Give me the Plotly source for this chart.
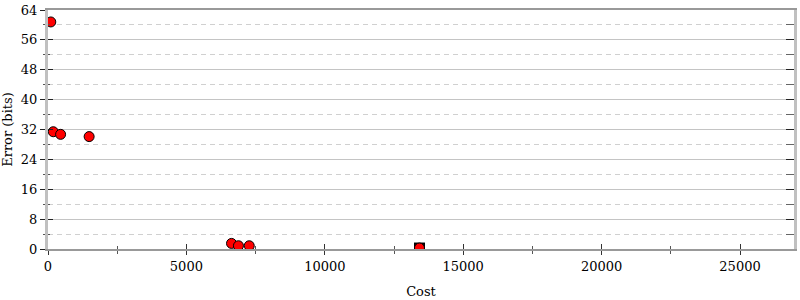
import plotly.graph_objects as go

cost = [100, 190, 455, 1486, 6630, 6880, 7270]
error_bits = [60.8, 31.4, 30.7, 30.1, 1.5, 0.87, 0.87]
best_cost = [13420]
best_error = [0.26]

x_range = [0, 26950]
y_range = [0, 64]
font = "DejaVu Serif"

fig = go.Figure()
# invisible helper traces so the overlay tick axes get drawn
for xa, ya in (("x2", "y2"), ("x2", "y3")):
    fig.add_trace(go.Scatter(x=cost, y=error_bits, xaxis=xa, yaxis=ya, mode="markers",
                             marker=dict(opacity=0), hoverinfo="skip", showlegend=False))
fig.add_trace(go.Scatter(x=best_cost, y=best_error, mode="markers",
                         marker=dict(symbol="square", size=11, color="black",
                                     line=dict(width=0)), showlegend=False))
fig.add_trace(go.Scatter(x=cost + best_cost, y=error_bits + best_error, mode="markers",
                         marker=dict(symbol="circle", size=10, color="#ff0000",
                                     line=dict(width=1, color="black")), showlegend=False))

common_axis = dict(showgrid=False, zeroline=False)
fig.update_layout(
    width=800, height=300,
    margin=dict(l=48, r=3, t=7, b=50),
    paper_bgcolor="white", plot_bgcolor="white",
    font=dict(family=font, size=13, color="#000"),
    xaxis=dict(range=x_range, dtick=5000, tick0=0, showgrid=False, zeroline=False,
               exponentformat="none", tickformat="d",
               ticks="outside", ticklen=4, tickcolor="#333", tickwidth=1,
               minor=dict(dtick=2500, ticks="outside", ticklen=3, tickcolor="#555"),
               showline=True, mirror=True, linecolor="#999", linewidth=2,
               title=dict(text="Cost", standoff=14, font=dict(size=13)),
               tickfont=dict(size=13), ticklabeloverflow="allow"),
    xaxis2=dict(range=x_range, matches="x", overlaying="x", anchor="y", side="bottom",
                dtick=5000, tick0=0, ticks="inside", ticklen=5, tickcolor="#333",
                minor=dict(dtick=2500, ticks="inside", ticklen=3, tickcolor="#555"),
                showticklabels=False, **common_axis),
    yaxis=dict(range=y_range, dtick=8, tick0=0, zeroline=False,
               showgrid=True, gridcolor="#c4c4c4", gridwidth=1,
               ticks="outside", ticklen=5, tickcolor="#222", tickwidth=1,
               minor=dict(dtick=4, showgrid=True, gridcolor="#d0d0d0", griddash="5px,4px",
                          gridwidth=1, ticks="outside", ticklen=2, tickcolor="#555"),
               showline=True, mirror=True, linecolor="#c0c0c0", linewidth=3,
               title=dict(text="Error (bits)", standoff=6, font=dict(size=13)),
               tickfont=dict(size=13), ticklabeloverflow="allow"),
    yaxis2=dict(range=y_range, matches="y", overlaying="y", anchor="x", side="left",
                dtick=8, tick0=0, ticks="inside", ticklen=5, tickcolor="#222",
                minor=dict(dtick=4, ticks="inside", ticklen=2, tickcolor="#555"),
                showticklabels=False, **common_axis),
    yaxis3=dict(range=y_range, matches="y", overlaying="y", anchor="x", side="right",
                dtick=8, tick0=0, ticks="inside", ticklen=8, tickcolor="#222",
                minor=dict(dtick=4, ticks="inside", ticklen=8, tickcolor="#666"),
                showticklabels=False, **common_axis),
)

fig.write_html("out.html")
